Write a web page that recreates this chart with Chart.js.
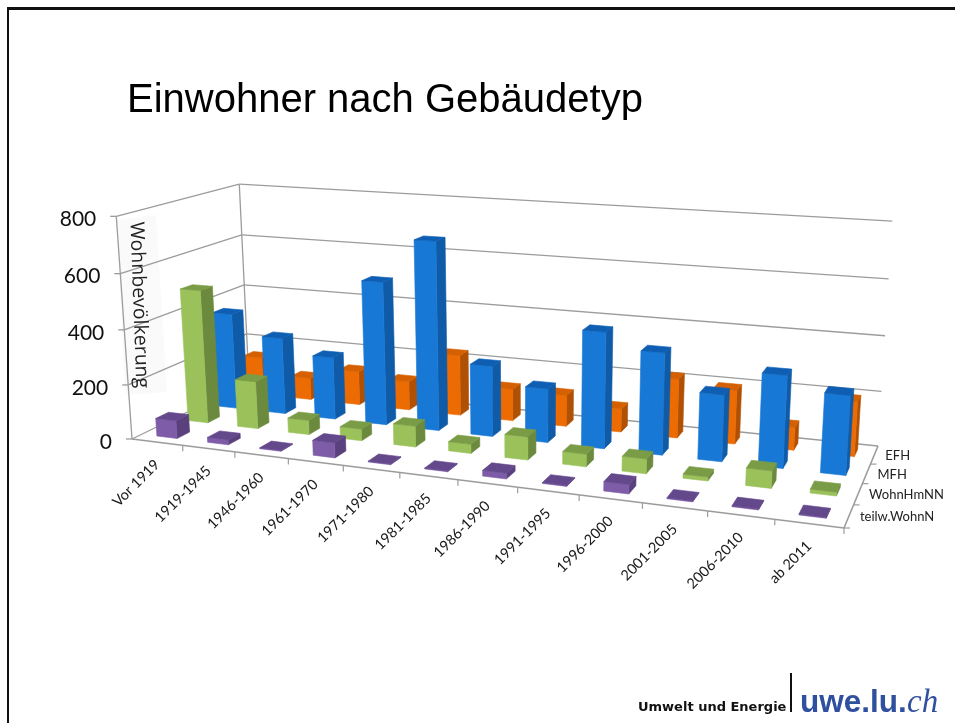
<!DOCTYPE html>
<html><head><meta charset="utf-8">
<style>html,body{margin:0;padding:0;background:#fff}canvas{display:block}</style>
<script src="https://cdn.jsdelivr.net/npm/chart.js@4"></script>
</head><body><canvas id="c" width="955" height="723"></canvas>
<script>
const categories = ['Vor 1919','1919-1945','1946-1960','1961-1970','1971-1980','1981-1985','1986-1990','1991-1995','1996-2000','2001-2005','2006-2010','ab 2011'];
const seriesNames = ['EFH','MFH','WohnHmNN','teilw.WohnN'];
const efh   = [147, 85,130,110,230,120,117, 87,218,196, 83,197];
const mfh   = [365,290,235,533,695,260,197,420,365,238,326,278];
const wohn  = [497,177, 53, 43, 76, 33, 83, 45, 52, 14, 60, 13];
const teilw = [ 66, 18,  3, 54,  3,  3, 20,  3, 32,  3,  3,  3];
const seriesValues = [efh, mfh, wohn, teilw];
const yTicks = [0,200,400,600,800];
const title = 'Einwohner nach Gebäudetyp';
const yTitle = 'Wohnbevölkerung';

const palette = {
  EFH:{front:'#ec6b02',side:'#b05004',top:'#d46002'},
  MFH:{front:'#1878d6',side:'#0f5ba8',top:'#0e5fb3'},
  WohnHmNN:{front:'#9bc25a',side:'#6b8a3e',top:'#7a9c46'},
  'teilw.WohnN':{front:'#7e5ca8',side:'#5a407c',top:'#64488c'}
};

// perspective frame of the plot box (projection, not data)
const floorQuad = [[132,439],[844,528],[878,446],[249,382]]; // front-left, front-right, back-right, back-left
const vanish = [525,6000], lift = 0.0385, zU = -0.143, zW = 0.132, warp = 0.047;
function homography(q){
  const [p0,p1,p2,p3]=q;
  const dx1=p1[0]-p2[0],dx2=p3[0]-p2[0],sx=p0[0]-p1[0]+p2[0]-p3[0];
  const dy1=p1[1]-p2[1],dy2=p3[1]-p2[1],sy=p0[1]-p1[1]+p2[1]-p3[1];
  const d=dx1*dy2-dx2*dy1;
  const g=(sx*dy2-dx2*sy)/d,h=(dx1*sy-sx*dy1)/d;
  const a=p1[0]-p0[0]+g*p1[0],b=p3[0]-p0[0]+h*p3[0],c=p0[0];
  const e=p1[1]-p0[1]+g*p1[1],f=p3[1]-p0[1]+h*p3[1],k=p0[1];
  return (u,w)=>{const z=g*u+h*w+1;return [(a*u+b*w+c)/z,(e*u+f*w+k)/z];};
}
const hFloor=homography(floorQuad);
function project(u0,w,t){ // u,w,t in 0..1
  const u=u0*(1+warp)/(1+warp*u0);
  const a=hFloor(u,w),z=1+zU*u+zW*w,f=lift*t/(z-lift*t);
  return [a[0]-(vanish[0]-a[0])*f,a[1]-(vanish[1]-a[1])*f];
}
const frac=0.4;
function poly(ctx,pts,fill){
  ctx.beginPath();pts.forEach((p,i)=>i?ctx.lineTo(p[0],p[1]):ctx.moveTo(p[0],p[1]));ctx.closePath();
  ctx.fillStyle=fill;ctx.fill();ctx.strokeStyle=fill;ctx.lineWidth=0.6;ctx.stroke();
}
function normX(s,i){return (s.getPixelForValue(i)-s.left)/s.width;}
function normY(s,v){return (s.bottom-s.getPixelForValue(v))/s.height;}

class Bar3D extends Chart.BarController{
  draw(){
    const ch=this.chart,ctx=ch.ctx,xs=ch.scales.x,ys=ch.scales.y;
    const n=categories.length,idx=this.index,m=seriesNames.length;
    const col=palette[this.getDataset().label];
    const wc=(m-1-idx+0.5)/m,du=frac/n/2,dw=frac/m/2;
    const meta=this.getMeta();
    for(let i=0;i<meta.data.length;i++){
      const uc=normX(xs,i),t=normY(ys,this.getParsed(i).y);
      const u0=uc-du,u1=uc+du,w0=wc-dw,w1=wc+dw;
      poly(ctx,[project(u1,w0,0),project(u1,w1,0),project(u1,w1,t),project(u1,w0,t)],col.side);
      poly(ctx,[project(u0,w0,0),project(u1,w0,0),project(u1,w0,t),project(u0,w0,t)],col.front);
      poly(ctx,[project(u0,w0,t),project(u1,w0,t),project(u1,w1,t),project(u0,w1,t)],col.top);
    }
  }
}
Bar3D.id='bar3d';Bar3D.defaults=Chart.BarController.defaults;
Chart.register(Bar3D);

function line(ctx,a,b,color,width){ctx.beginPath();ctx.moveTo(a[0],a[1]);ctx.lineTo(b[0],b[1]);ctx.strokeStyle=color;ctx.lineWidth=width;ctx.stroke();}

const framePlugin={
  id:'frame',
  beforeDatasetsDraw(ch){
    const ctx=ch.ctx,ys=ch.scales.y,xs=ch.scales.x,grid='#9c9c9c';
    ctx.save();
    // slide border
    ctx.fillStyle='#111';ctx.fillRect(7,7,948,3);ctx.fillRect(7,7,2,716);
    // title
    ctx.fillStyle='#000';ctx.font='40px "Liberation Sans"';ctx.textAlign='left';ctx.textBaseline='alphabetic';
    ctx.fillText(title,127,112);
    // axis title panel
    ctx.fillStyle='#fafafa';
    ctx.beginPath();ctx.moveTo(117,220);ctx.lineTo(156,215);ctx.lineTo(167,392);ctx.lineTo(125,395);ctx.closePath();ctx.fill();
    // walls
    yTicks.forEach(v=>{
      const t=normY(ys,v);
      line(ctx,project(0,0,t),project(0,1,t),grid,1.3);
      line(ctx,project(0,1,t),project(1,1,t),grid,1.3);
      const p=project(0,0,t);
      line(ctx,[p[0]-6,p[1]],p,grid,1.3);
      ctx.fillStyle='#111';ctx.font='21px Lato';ctx.textAlign='right';ctx.textBaseline='middle';
      ctx.fillText(String(v),p[0]-20,p[1]+3);
    });
    line(ctx,project(0,0,0),project(0,0,1),grid,1.3);
    line(ctx,project(0,1,0),project(0,1,1),grid,1.3);
    // floor edges
    line(ctx,project(0,0,0),project(1,0,0),grid,1.6);
    line(ctx,project(1,0,0),project(1,1,0),grid,1.6);
    // category ticks and labels
    categories.forEach((c,i)=>{
      const uc=normX(xs,i);
      const e=project(uc+0.5/categories.length,0,0);
      line(ctx,e,[e[0],e[1]+6],grid,1.2);
      const p=project(uc,0,0);
      ctx.save();ctx.translate(p[0],p[1]+20);ctx.rotate(-Math.PI/4);
      ctx.fillStyle='#1a1a1a';ctx.font='14.5px Lato';ctx.textAlign='right';ctx.textBaseline='middle';
      ctx.fillText(c,0,0);ctx.restore();
    });
    // series ticks and labels
    seriesNames.forEach((s,k)=>{
      const m=seriesNames.length,w=(m-1-k+0.5)/m;
      const e=project(1,(m-1-k)/m,0);
      line(ctx,e,[e[0]+6,e[1]],grid,1.2);
      const p=project(1,w,0);
      ctx.fillStyle='#222';ctx.font='13px Lato';ctx.textAlign='left';ctx.textBaseline='middle';
      ctx.fillText(s,p[0]+11,p[1]+1);
    });
    // logo
    ctx.textBaseline='alphabetic';ctx.textAlign='left';
    ctx.fillStyle='#111';ctx.font='bold 13px "DejaVu Sans"';ctx.fillText('Umwelt und Energie',638,711);
    ctx.fillRect(790,673,2,39);
    ctx.fillStyle='#2f4f9f';ctx.font='bold 31.5px "Liberation Sans"';ctx.fillText('uwe.lu.',800,712);
    ctx.font='italic 33px "Liberation Serif"';ctx.fillText('ch',907,712);
    ctx.restore();
  },
  afterDatasetsDraw(ch){
    const ctx=ch.ctx;
    ctx.save();
    ctx.translate(127,222);ctx.rotate(Math.PI/2-0.036);
    ctx.fillStyle='#222';ctx.font='19.5px "Open Sans"';ctx.textAlign='left';ctx.textBaseline='middle';
    ctx.fillText(yTitle,0,-9);
    ctx.restore();
  }
};

new Chart(document.getElementById('c'),{
  type:'bar3d',
  data:{labels:categories,datasets:seriesNames.map((s,k)=>({label:s,data:seriesValues[k],order:seriesNames.length-k}))},
  options:{
    responsive:false,animation:false,
    layout:{padding:0},
    plugins:{legend:{display:false},tooltip:{enabled:false}},
    scales:{
      x:{type:'category',display:false},
      y:{type:'linear',display:false,min:0,max:800,ticks:{stepSize:200}}
    }
  },
  plugins:[framePlugin]
});
</script></body></html>
